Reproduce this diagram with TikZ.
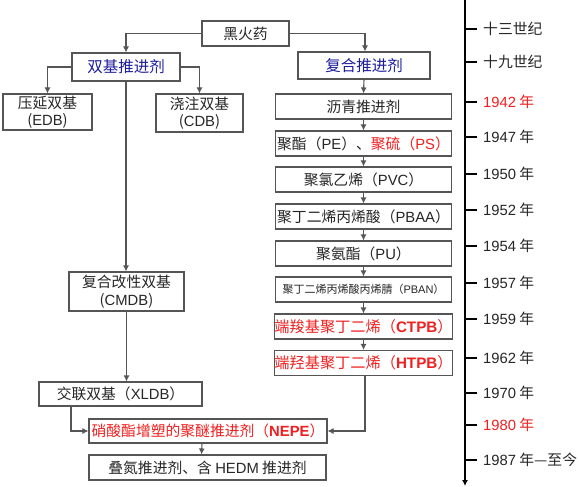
\documentclass[tikz,border=0pt]{standalone}
\usepackage{fontspec}
\setmainfont{Noto Sans CJK SC}
\newfontfamily\lat{Liberation Sans}
\usetikzlibrary{arrows.meta,calc}
\definecolor{boxgray}{HTML}{555555}
\definecolor{txt}{HTML}{262626}
\definecolor{tblue}{HTML}{1C1C9C}
\definecolor{tred}{HTML}{F02020}
\newcommand{\lt}[1]{{\lat #1}}
\newcommand{\ltb}[1]{{\lat\bfseries #1}}
\begin{document}
\begin{tikzpicture}[x=1pt,y=-1pt,
  box/.style={draw=boxgray, line width=1.1pt, fill=white, inner sep=0pt,
    text=txt, font=\fontsize{14.8}{17.5}\selectfont, align=center},
  colbox/.style={box, minimum width=176pt, minimum height=25pt},
  arr/.style={draw=boxgray, line width=1.1pt, -{Latex[length=6pt,width=6pt]}},
  tick/.style={draw=black, line width=2.4pt},
  tlab/.style={anchor=west, inner sep=0pt, text=txt, font=\fontsize{14.8}{17.5}\selectfont}]
\useasboundingbox[fill=white] (0,0) rectangle (579,487);

% left / top boxes
\node[box, minimum width=87pt, minimum height=25pt] (hhy) at (245.5,33.5) {黑火药};
\node[box, minimum width=108pt, minimum height=28pt, text=tblue, font=\fontsize{15.5}{18}\selectfont] (sj) at (126,67) {双基推进剂};
\node[box, minimum width=132pt, minimum height=27pt, text=tblue, font=\fontsize{15.5}{18}\selectfont] (fh) at (364,65.5) {复合推进剂};
\node[box, minimum width=89pt, minimum height=36pt] (edb) at (47.5,112) {压延双基\\(\lt{EDB})};
\node[box, minimum width=87pt, minimum height=38pt] (cdb) at (199.5,113) {浇注双基\\(\lt{CDB})};
\node[box, minimum width=115pt, minimum height=39pt] (cmdb) at (126.5,291.5) {复合改性双基\\(\lt{CMDB})};
\node[box, minimum width=163pt, minimum height=24pt] (xldb) at (120.5,394) {交联双基（\lt{XLDB}）};
\node[box, minimum width=238pt, minimum height=24pt, text=tred] (nepe) at (208,431) {硝酸酯增塑的聚醚推进剂（\ltb{NEPE}）};
\node[box, minimum width=237pt, minimum height=25pt] (hedm) at (207.5,467.5) {叠氮推进剂、含 \lt{HEDM} 推进剂};

% right column
\node[colbox] (lq) at (363.5,106.5) {沥青推进剂};
\node[colbox] (pe) at (363.5,143.5) {聚酯（\lt{PE}）、{\color{tred}聚硫（\lt{PS}）}};
\node[colbox] (pvc) at (363.5,179.5) {聚氯乙烯（\lt{PVC}）};
\node[colbox] (pbaa) at (363.5,216.5) {聚丁二烯丙烯酸（\lt{PBAA}）};
\node[colbox] (pu) at (363.5,253.5) {聚氨酯（\lt{PU}）};
\node[colbox, font=\fontsize{11}{13}\selectfont] (pban) at (363.5,289.5) {聚丁二烯丙烯酸丙烯腈（\lt{PBAN}）};
\node[colbox, text=tred, font=\fontsize{15.2}{18}\selectfont] (ctpb) at (363.5,326.5) {端羧基聚丁二烯（\ltb{CTPB}）};
\node[colbox, text=tred, font=\fontsize{15.2}{18}\selectfont] (htpb) at (363.5,363) {端羟基聚丁二烯（\ltb{HTPB}）};

% connectors
\draw[arr] (hhy.west) -| (sj.north);
\draw[arr] (hhy.east) -| ([xshift=1pt]fh.north);
\draw[arr] (sj.west) -| (edb.north);
\draw[arr] (sj.east) -| (cdb.north);
\draw[arr] (sj.south) -- (cmdb.north -| sj.south);
\draw[arr] (cmdb.south) -- (cmdb.south |- xldb.north);
\draw[arr] ([xshift=-49.5pt]xldb.south) |- (nepe.west);
\draw[arr] ([xshift=-6pt]nepe.south) -- ([xshift=-6pt]hedm.north);
\draw[arr] (fh.south) -- (lq.north);
\draw[arr] (lq.south) -- (pe.north);
\draw[arr] (pe.south) -- (pvc.north);
\draw[arr] (pvc.south) -- (pbaa.north);
\draw[arr] (pbaa.south) -- (pu.north);
\draw[arr] (pu.south) -- (pban.north);
\draw[arr] (pban.south) -- (ctpb.north);
\draw[arr] (ctpb.south) -- (htpb.north);
\draw[arr] ([xshift=1.5pt]htpb.south) |- (nepe.east);

% timeline
\coordinate (ttop) at (465,0);
\coordinate (tbot) at (465,486);
\draw[draw=black, line width=1.2pt, -{Latex[length=6pt,width=6pt]}] (ttop) -- (tbot);
\foreach \y/\lab/\c [count=\i] in {29/十三世纪/txt, 62/十九世纪/txt, 102/\lt{1942} 年/tred,
  137/\lt{1947} 年/txt, 174/\lt{1950} 年/txt, 210/\lt{1952} 年/txt, 246/\lt{1954} 年/txt,
  283/\lt{1957} 年/txt, 319/\lt{1959} 年/txt, 358/\lt{1962} 年/txt, 393/\lt{1970} 年/txt,
  425/\lt{1980} 年/tred, 460/\lt{1987} 年—至今/txt}{
  \draw[tick] (465,\y) -- (477,\y);
  \node[tlab, text=\c] (t\i) at (483,\y) {\lab};
}
\end{tikzpicture}
\end{document}
